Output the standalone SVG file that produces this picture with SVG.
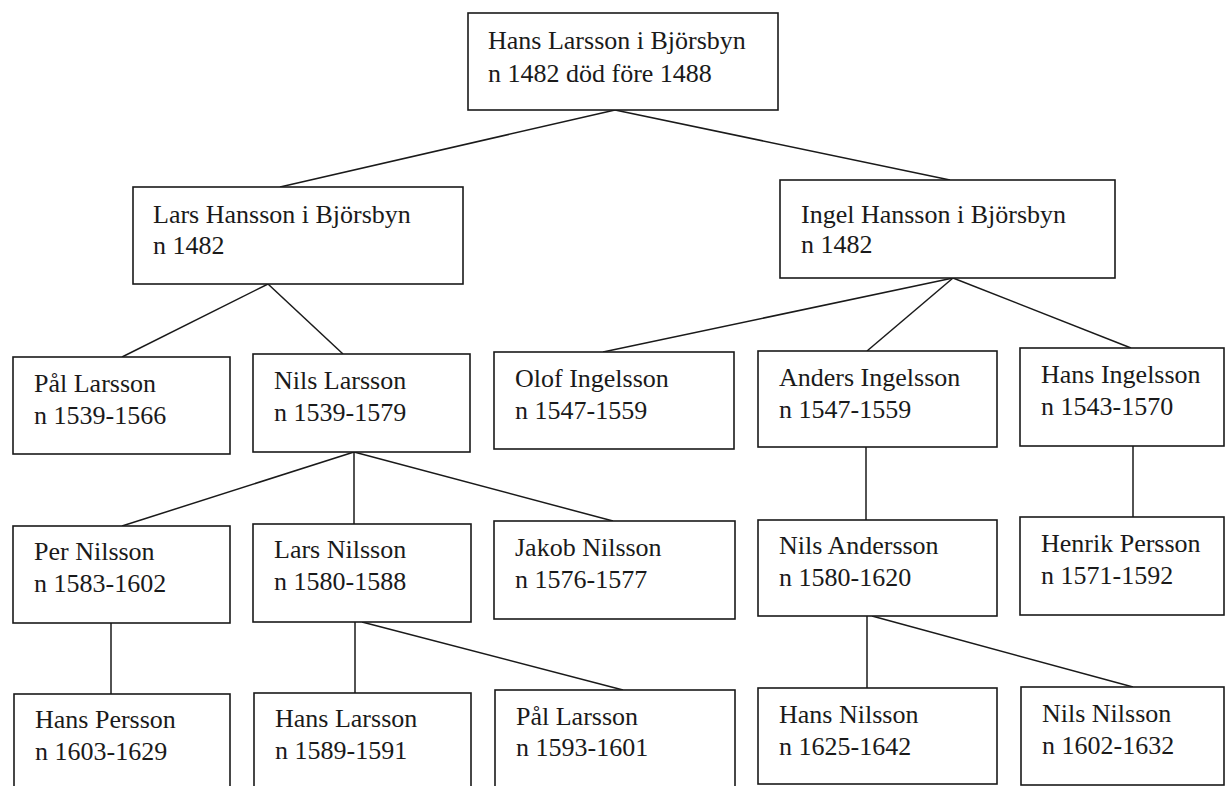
<svg xmlns="http://www.w3.org/2000/svg" width="1226" height="786" viewBox="0 0 1226 786">
<style>
.box{fill:#fff;stroke:#1a1a1a;stroke-width:1.6}
.t{font-family:'Liberation Serif','Times New Roman',serif;font-size:26px;fill:#1a1a1a}
.c line{stroke:#1a1a1a;stroke-width:1.5}
</style>
<rect width="1226" height="786" fill="#fff"/>
<g id="connectors" class="c">
<line x1="615" y1="110" x2="280" y2="187"/>
<line x1="615" y1="110" x2="950" y2="180"/>
<line x1="268" y1="284" x2="122" y2="357"/>
<line x1="268" y1="284" x2="343" y2="354"/>
<line x1="953" y1="278" x2="603" y2="352"/>
<line x1="953" y1="278" x2="867" y2="351"/>
<line x1="953" y1="278" x2="1131" y2="348"/>
<line x1="354" y1="452" x2="122" y2="526"/>
<line x1="354" y1="452" x2="354" y2="524"/>
<line x1="354" y1="452" x2="613" y2="521"/>
<line x1="866" y1="447" x2="866" y2="520"/>
<line x1="1133" y1="446" x2="1133" y2="517"/>
<line x1="111" y1="623" x2="111" y2="694"/>
<line x1="355" y1="622" x2="355" y2="693"/>
<line x1="362" y1="622" x2="623" y2="690"/>
<line x1="867" y1="616" x2="867" y2="688"/>
<line x1="872" y1="616" x2="1133" y2="687"/>
</g>
<g id="n1"><rect class="box" x="468" y="13" width="310" height="97"/><text class="t" x="488" y="49">Hans Larsson i Björsbyn</text><text class="t" x="488" y="82">n 1482 död före 1488</text></g>
<g id="n2"><rect class="box" x="133" y="187" width="330" height="97"/><text class="t" x="153" y="223">Lars Hansson i Björsbyn</text><text class="t" x="153" y="254">n 1482</text></g>
<g id="n3"><rect class="box" x="780" y="180" width="335" height="98"/><text class="t" x="801" y="223">Ingel Hansson i Björsbyn</text><text class="t" x="801" y="253">n 1482</text></g>
<g id="n4"><rect class="box" x="13" y="357" width="217" height="97"/><text class="t" x="34" y="392">Pål Larsson</text><text class="t" x="34" y="424">n 1539-1566</text></g>
<g id="n5"><rect class="box" x="253" y="354" width="217" height="98"/><text class="t" x="274" y="389">Nils Larsson</text><text class="t" x="274" y="421">n 1539-1579</text></g>
<g id="n6"><rect class="box" x="494" y="352" width="240" height="97"/><text class="t" x="515" y="387">Olof Ingelsson</text><text class="t" x="515" y="419">n 1547-1559</text></g>
<g id="n7"><rect class="box" x="758" y="351" width="239" height="96"/><text class="t" x="779" y="386">Anders Ingelsson</text><text class="t" x="779" y="418">n 1547-1559</text></g>
<g id="n8"><rect class="box" x="1020" y="348" width="204" height="98"/><text class="t" x="1041" y="383">Hans Ingelsson</text><text class="t" x="1041" y="415">n 1543-1570</text></g>
<g id="n9"><rect class="box" x="13" y="526" width="217" height="97"/><text class="t" x="34" y="560">Per Nilsson</text><text class="t" x="34" y="592">n 1583-1602</text></g>
<g id="n10"><rect class="box" x="253" y="524" width="218" height="98"/><text class="t" x="274" y="558">Lars Nilsson</text><text class="t" x="274" y="590">n 1580-1588</text></g>
<g id="n11"><rect class="box" x="494" y="521" width="241" height="98"/><text class="t" x="515" y="556">Jakob Nilsson</text><text class="t" x="515" y="588">n 1576-1577</text></g>
<g id="n12"><rect class="box" x="758" y="520" width="239" height="96"/><text class="t" x="779" y="554">Nils Andersson</text><text class="t" x="779" y="586">n 1580-1620</text></g>
<g id="n13"><rect class="box" x="1020" y="517" width="204" height="98"/><text class="t" x="1041" y="552">Henrik Persson</text><text class="t" x="1041" y="584">n 1571-1592</text></g>
<g id="n14"><rect class="box" x="14" y="694" width="216" height="100"/><text class="t" x="35" y="728">Hans Persson</text><text class="t" x="35" y="760">n 1603-1629</text></g>
<g id="n15"><rect class="box" x="254" y="693" width="217" height="100"/><text class="t" x="275" y="727">Hans Larsson</text><text class="t" x="275" y="759">n 1589-1591</text></g>
<g id="n16"><rect class="box" x="495" y="690" width="240" height="100"/><text class="t" x="516" y="725">Pål Larsson</text><text class="t" x="516" y="756">n 1593-1601</text></g>
<g id="n17"><rect class="box" x="758" y="688" width="239" height="96"/><text class="t" x="779" y="723">Hans Nilsson</text><text class="t" x="779" y="755">n 1625-1642</text></g>
<g id="n18"><rect class="box" x="1021" y="687" width="203" height="98"/><text class="t" x="1042" y="722">Nils Nilsson</text><text class="t" x="1042" y="754">n 1602-1632</text></g>
</svg>
